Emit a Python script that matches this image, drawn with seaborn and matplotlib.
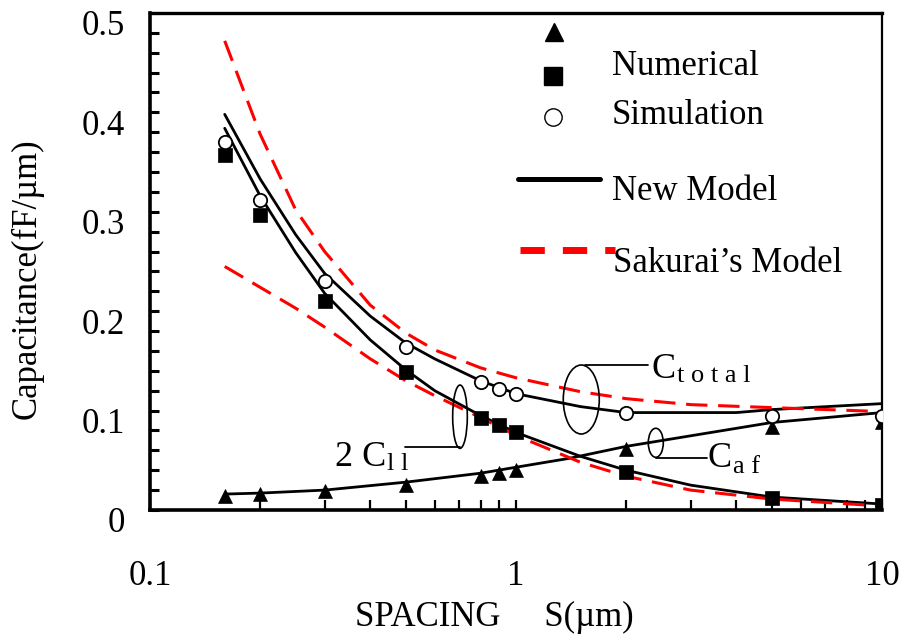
import matplotlib
matplotlib.use("Agg")
import matplotlib.pyplot as plt
from matplotlib.patches import Ellipse
from matplotlib.transforms import ScaledTranslation
from matplotlib.ticker import (FixedLocator, FixedFormatter, MultipleLocator,
                               LogLocator, NullFormatter)
import seaborn as sns

# ---------------------------------------------------------------- data
# spacing (um) of the numerical-simulation points
s_points = [0.16, 0.2, 0.3, 0.5, 0.8, 0.9, 1.0, 2.0, 5.0, 10.0]
caf_numerical = [0.014, 0.016, 0.019, 0.025, 0.0345, 0.037, 0.040, 0.061, 0.083, 0.089]
cll_numerical = [0.357, 0.297, 0.210, 0.139, 0.093, 0.085, 0.078, 0.0386, 0.0117, 0.005]
ctotal_simulation = [0.370, 0.312, 0.230, 0.164, 0.129, 0.122, 0.117, 0.098, 0.095, 0.095]

# new model curves
s_total_new = [0.16, 0.2, 0.25, 0.3, 0.4, 0.5, 0.6, 0.8, 1.0, 1.5, 2.0, 4.0, 5.0, 10.0]
c_total_new = [0.398, 0.333, 0.277, 0.238, 0.195, 0.168, 0.152, 0.130, 0.117, 0.104,
               0.098, 0.098, 0.101, 0.107]
s_cll_new = [0.16, 0.2, 0.25, 0.3, 0.4, 0.5, 0.6, 0.8, 1.0, 1.5, 2.0, 3.0, 5.0, 10.0]
c_cll_new = [0.384, 0.316, 0.259, 0.218, 0.171, 0.141, 0.120, 0.095, 0.078, 0.054,
             0.040, 0.025, 0.013, 0.006]
s_caf_new = [0.16, 0.2, 0.3, 0.5, 0.65, 0.8, 1.0, 1.4, 2.0, 5.0, 10.0]
c_caf_new = [0.016, 0.017, 0.020, 0.028, 0.033, 0.037, 0.043, 0.052, 0.064, 0.088, 0.098]

# Sakurai's model curves
s_total_sak = [0.16, 0.2, 0.25, 0.3, 0.4, 0.5, 0.6, 0.8, 1.0, 1.5, 2.0, 3.0, 5.0, 10.0]
c_total_sak = [0.472, 0.378, 0.302, 0.260, 0.206, 0.178, 0.161, 0.143, 0.133, 0.119,
               0.112, 0.106, 0.103, 0.099]
s_cll_sak = [0.16, 0.2, 0.25, 0.3, 0.4, 0.5, 0.6, 0.8, 1.0, 1.5, 2.0, 3.0, 5.0, 10.0]
c_cll_sak = [0.245, 0.224, 0.203, 0.184, 0.152, 0.130, 0.115, 0.093, 0.075, 0.048,
             0.034, 0.020, 0.011, 0.004]

x_ticks = [0.1, 1, 10]
x_tick_labels = ["0.1", "1", "10"]
y_ticks = [0, 0.1, 0.2, 0.3, 0.4, 0.5]
y_tick_labels = ["0", "0.1", "0.2", "0.3", "0.4", "0.5"]

# ---------------------------------------------------------------- style
sns.set_theme(style="white", rc={
    "axes.edgecolor": "black", "xtick.color": "black", "ytick.color": "black",
    "text.color": "black", "axes.labelcolor": "black",
})
plt.rcParams["font.family"] = ["Liberation Serif", "DejaVu Serif"]

fig = plt.figure(figsize=(9.02, 6.39), dpi=100)
ax = fig.add_axes([0.1663, 0.2019, 0.8115, 0.7778])
ax.set_xscale("log")

RED_DASH = (0, (7, 3.5))

# model curves
sns.lineplot(x=s_total_new, y=c_total_new, ax=ax, color="black", lw=2.0,
             estimator=None, zorder=2)
sns.lineplot(x=s_cll_new, y=c_cll_new, ax=ax, color="black", lw=2.0,
             estimator=None, zorder=2)
sns.lineplot(x=s_caf_new, y=c_caf_new, ax=ax, color="black", lw=2.0,
             estimator=None, zorder=2)
sns.lineplot(x=s_total_sak, y=c_total_sak, ax=ax, color="red", lw=2.2,
             linestyle=RED_DASH, estimator=None, zorder=3)
sns.lineplot(x=s_cll_sak, y=c_cll_sak, ax=ax, color="red", lw=2.2,
             linestyle=RED_DASH, estimator=None, zorder=3)

# simulation points
sns.scatterplot(x=s_points, y=caf_numerical, ax=ax, marker="^", s=100,
                color="black", edgecolor="black", linewidth=0.5, zorder=4)
sns.scatterplot(x=s_points, y=cll_numerical, ax=ax, marker="s", s=100,
                color="black", edgecolor="black", linewidth=0.5, zorder=4)
sns.scatterplot(x=s_points, y=ctotal_simulation, ax=ax, marker="o", s=92,
                color="white", edgecolor="black", linewidth=1.3, zorder=5)

# ---------------------------------------------------------------- axes
ax.set_xlim(0.1, 10)
ax.set_ylim(0, 0.5)
ax.xaxis.set_major_locator(FixedLocator(x_ticks))
ax.xaxis.set_major_formatter(FixedFormatter(x_tick_labels))
ax.xaxis.set_minor_locator(LogLocator(base=10, subs=range(2, 10), numticks=20))
ax.xaxis.set_minor_formatter(NullFormatter())
ax.yaxis.set_major_locator(FixedLocator(y_ticks))
ax.yaxis.set_major_formatter(FixedFormatter(y_tick_labels))
ax.yaxis.set_minor_locator(MultipleLocator(0.02))

ax.tick_params(axis="y", which="both", direction="in", length=6.5, width=2.2,
               left=True, right=False, pad=18, labelsize=25)
ax.tick_params(axis="x", which="both", direction="in", length=7.5, width=1.6,
               bottom=True, top=False, pad=36, labelsize=25)

for side, lw in (("left", 2.6), ("bottom", 2.6), ("top", 2.4), ("right", 1.6)):
    ax.spines[side].set_linewidth(lw)
    ax.spines[side].set_color("black")

# y tick labels sit slightly below their ticks
shift = ScaledTranslation(0, -0.1, fig.dpi_scale_trans)
for lab in ax.get_yticklabels():
    lab.set_transform(lab.get_transform() + shift)

ax.set_ylabel("Capacitance(fF/µm)", fontsize=25)
ax.yaxis.set_label_coords(-0.1455, 0.465)
ax.set_xlabel("SPACING     S(µm)", fontsize=25)
ax.xaxis.set_label_coords(0.47, -0.183)

# ---------------------------------------------------------------- legend
T = ax.transAxes
ax.plot([0.5519], [0.9618], marker="^", ms=13, color="black", ls="none",
        transform=T, clip_on=False)
ax.plot([0.5505], [0.8732], marker="s", ms=13.5, color="black", ls="none",
        transform=T, clip_on=False)
ax.plot([0.5505], [0.7907], marker="o", ms=12.5, mfc="white", mec="black",
        mew=1.0, ls="none", transform=T, clip_on=False)
ax.plot([0.5027, 0.6148], [0.666, 0.666], color="black", lw=3.6,
        solid_capstyle="round", transform=T, clip_on=False)
ax.plot([0.5055, 0.6352], [0.5231, 0.5231], color="red", lw=5,
        linestyle=(0, (3.5, 2.6)), dash_capstyle="butt", transform=T,
        clip_on=False)

legend_font = dict(fontsize=25, va="baseline", ha="left", transform=T)
ax.text(0.6311, 0.8753, "Numerical", **legend_font)
ax.text(0.6311, 0.7767, "Simulation", **legend_font)
ax.text(0.6311, 0.6237, "New Model", **legend_font)
ax.text(0.6325, 0.4789, "Sakurai\u2019s Model", **legend_font)

# ---------------------------------------------------------------- curve tags
ring = dict(facecolor="none", edgecolor="black", lw=1.2, transform=T, zorder=6)
ax.add_patch(Ellipse((0.5892, 0.2223), 0.0492, 0.1388, **ring))
ax.add_patch(Ellipse((0.6910, 0.1352), 0.0205, 0.0584, **ring))
ax.add_patch(Ellipse((0.4235, 0.1877), 0.0200, 0.1274, **ring))

lead = dict(color="black", lw=1.3, transform=T, zorder=6)
ax.plot([0.5943, 0.6803], [0.2917, 0.2917], **lead)
ax.plot([0.6915, 0.7609], [0.1040, 0.1040], **lead)
ax.plot([0.4235, 0.3484], [0.1261, 0.1261], **lead)

big = dict(fontsize=26, va="baseline", ha="left", transform=T)
small = dict(fontsize=19, va="baseline", ha="left", transform=T)
ax.text(0.2530, 0.0885, "2 C", **big)
ax.text(0.3238, 0.0805, "l l", **small)
ax.text(0.6858, 0.2656, "C", **big)
ax.text(0.7199, 0.2575, "t o t a l", **small)
ax.text(0.7623, 0.0865, "C", **big)
ax.text(0.7964, 0.0744, "a f", **small)

fig.savefig("out.png", dpi=100)
